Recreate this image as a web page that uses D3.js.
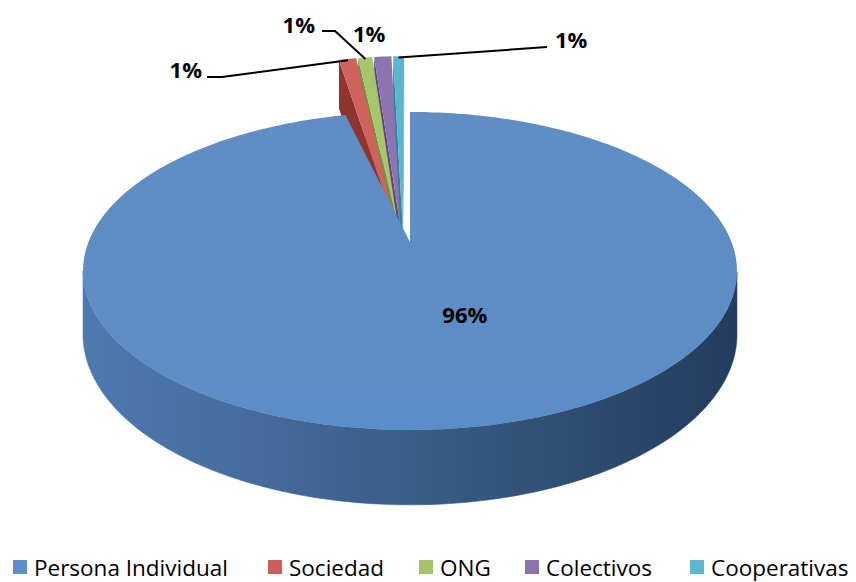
<!DOCTYPE html>
<html><head><meta charset="utf-8">
<script src="https://cdn.jsdelivr.net/npm/d3@7"></script>
<style>html,body{margin:0;padding:0;background:#fff}svg{display:block}</style>
</head><body>
<svg id="chart" width="856" height="582"></svg>
<script>
// ---- data ----
const categories = ["Persona Individual", "Sociedad", "ONG", "Colectivos", "Cooperativas"];
const values = [96.2, 1.1, 0.9, 1.1, 0.7];
const labelTexts = ["96%", "1%", "1%", "1%", "1%"];
const exploded = [false, true, true, true, true];

// ---- styles ----
const topColors  = ["#5E8DC5", "#CF625C", "#A8C46C", "#8D73B2", "#5AB5CE"];
const sideColors = ["#3D6290", "#8E3431", "#74913D", "#5E4683", "#2F8298"];
const legendColors = ["#5B8FCB", "#CD5F58", "#A6C36A", "#8C73B0", "#5BB8CF"];

// ---- projection (pseudo-perspective 3D pie) ----
const cx = 410, cy = 242, A = 321.5, B = 153.7, p = 0.182, D = 61.3;
function P(X, Z, h) {
  const s = 1 / (1 + p * Z);
  return [cx + A * X * s, cy - B * Z * s + D * h * s];
}

const svg = d3.select("#chart");
const defs = svg.append("defs");
const sideGrad = defs.append("linearGradient").attr("id", "sideGrad")
  .attr("gradientUnits", "userSpaceOnUse").attr("x1", 83).attr("x2", 740).attr("y1", 0).attr("y2", 0);
[[0, "#4E7AB0"], [0.3, "#44699A"], [0.6, "#35577F"], [0.85, "#2A4668"], [1, "#233C5E"]]
  .forEach(([o, c]) => sideGrad.append("stop").attr("offset", o).attr("stop-color", c));

const topGrad = defs.append("linearGradient").attr("id", "topGrad")
  .attr("x1", 0).attr("x2", 0).attr("y1", 0).attr("y2", 1);
[[0, "#5F8DC4"], [0.8, "#5E8DC5"], [1, "#5B8DCA"]]
  .forEach(([o, c]) => topGrad.append("stop").attr("offset", o).attr("stop-color", c));

const arcs = d3.pie().sort(null).value(d => d).startAngle(0).endAngle(2 * Math.PI)(values);

// exploded group: pushed back and stretched (as the source rendering shows)
const groupMid = (arcs[1].startAngle + arcs[4].endAngle) / 2;
const EX = { oz: 0.1, kz: 1.45, ox: -0.035, spread: 0.12 };

function sliceGeom(i) {
  const a = arcs[i];
  if (!exploded[i]) return { a0: a.startAngle, a1: a.endAngle, ox: 0, oz: 0, kz: 1 };
  const bis = (a.startAngle + a.endAngle) / 2;
  return { a0: a.startAngle, a1: a.endAngle,
           ox: EX.ox + EX.spread * (bis - groupMid), oz: EX.oz, kz: EX.kz };
}
function rim(g, t, h, r = 1) { return P(g.ox + r * Math.sin(t), g.oz + g.kz * r * Math.cos(t), h); }
function apex(g, h) { return P(g.ox, g.oz, h); }
function area(pts) {
  let s = 0;
  for (let i = 0; i < pts.length; i++) {
    const a = pts[i], b = pts[(i + 1) % pts.length];
    s += a[0] * b[1] - b[0] * a[1];
  }
  return s / 2;
}
const line = d3.line();
function poly(pts) { return line(pts) + "Z"; }

function drawSlice(i, layer) {
  const g = sliceGeom(i);
  const N = Math.max(4, Math.ceil((g.a1 - g.a0) / (Math.PI / 180)));
  const ts = d3.range(N + 1).map(k => g.a0 + (g.a1 - g.a0) * k / N);
  const grp = layer.append("g");
  // outer wall: contiguous visible runs
  let run = [];
  const runs = [];
  for (let k = 0; k < N; k++) {
    const q = [rim(g, ts[k], 0), rim(g, ts[k + 1], 0), rim(g, ts[k + 1], 1), rim(g, ts[k], 1)];
    if (area(q) < 0) { if (!run.length) run.push(k); run[1] = k + 1; }
    else if (run.length) { runs.push(run); run = []; }
  }
  if (run.length) runs.push(run);
  runs.forEach(([k0, k1]) => {
    const topPts = d3.range(k0, k1 + 1).map(k => rim(g, ts[k], 0));
    const botPts = d3.range(k1, k0 - 1, -1).map(k => rim(g, ts[k], 1));
    grp.append("path").attr("d", poly(topPts.concat(botPts)))
      .attr("fill", i === 0 ? "url(#sideGrad)" : sideColors[i])
      .attr("stroke", i === 0 ? "url(#sideGrad)" : sideColors[i]).attr("stroke-width", 0.6);
  });
  // radial faces
  if (i !== 0) {
    const f1 = [rim(g, g.a1, 0), apex(g, 0), apex(g, 1), rim(g, g.a1, 1)];
    const f0 = [apex(g, 0), rim(g, g.a0, 0), rim(g, g.a0, 1), apex(g, 1)];
    [f0, f1].forEach(f => {
      if (area(f) < 0) grp.append("path").attr("d", poly(f)).attr("fill", sideColors[i]);
    });
  }
  // top face
  const topFace = [apex(g, 0)].concat(ts.map(t => rim(g, t, 0)));
  grp.append("path").attr("d", poly(topFace))
    .attr("fill", i === 0 ? "url(#topGrad)" : topColors[i]);
  return g;
}

const pieLayer = svg.append("g");
// back wedges first (right to left), then the big slice
[4, 3, 2, 1].forEach(i => drawSlice(i, pieLayer));
drawSlice(0, pieLayer);

// ---- labels ----
const labelLayout = [
  { anchor: "middle", r: 0.47, ang: 160.5, leader: [] },
  { x: 202, y: 78, anchor: "end", leader: [[222, 77], [207, 77]] },
  { x: 315, y: 33, anchor: "end", leader: [[335, 31], [322, 31]] },
  { x: 353, y: 42, anchor: "start", leader: null },
  { x: 555, y: 48, anchor: "start", leader: [[547, 47]] }
];
const FONT = "'Open Sans', Lato, sans-serif";
const labLayer = svg.append("g")
  .attr("font-family", FONT).attr("font-weight", 700).attr("font-size", 22);
labelLayout.forEach((L, i) => {
  let x = L.x, y = L.y;
  if (i === 0) {
    const t = L.ang * Math.PI / 180;
    const pt = P(L.r * Math.sin(t), L.r * Math.cos(t), 0);
    x = pt[0]; y = pt[1] + 7;
  }
  if (L.leader && L.leader.length) {
    const g = sliceGeom(i);
    const start = rim(g, (g.a0 + g.a1) / 2, 0, 0.99);
    labLayer.append("path").attr("d", line([start].concat(L.leader)))
      .attr("fill", "none").attr("stroke", "#000").attr("stroke-width", 2);
  }
  labLayer.append("text").attr("x", x).attr("y", y).attr("text-anchor", L.anchor)
    .attr("fill", "#000").text(labelTexts[i]);
});

// ---- legend ----
const legendX = [13, 268, 419, 525, 690];
const leg = svg.append("g").attr("font-family", FONT).attr("font-size", 22.5);
categories.forEach((c, i) => {
  leg.append("rect").attr("x", legendX[i]).attr("y", 560).attr("width", 14).attr("height", 14)
    .attr("fill", legendColors[i]);
  leg.append("text").attr("x", legendX[i] + 21).attr("y", 576).attr("fill", "#000").text(c);
});
</script>
</body></html>
